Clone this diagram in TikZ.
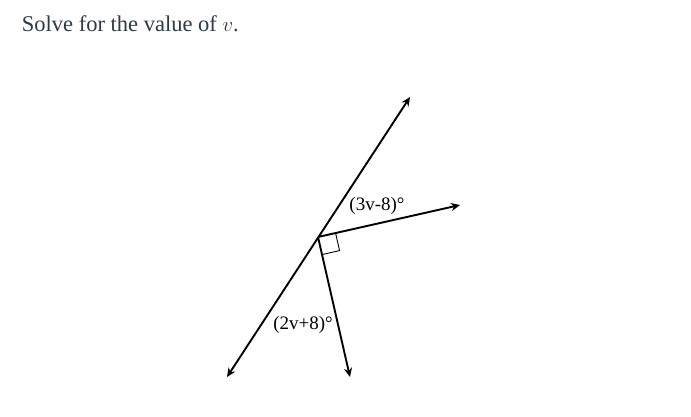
\documentclass[tikz,border=0pt]{standalone}
\usepackage{fontspec}
\setmainfont{Liberation Serif}
\usetikzlibrary{arrows.meta,calc}
\definecolor{titlegray}{HTML}{2D3B45}

\begin{document}
\begin{tikzpicture}[x=1pt,y=-1pt,>={Stealth[length=9pt,width=8pt]},line width=1.9pt]
      \useasboundingbox (0,0) rectangle (691,416);
      \node[anchor=base west,inner sep=0pt,text=titlegray,font=\fontsize{22.5}{27}\selectfont] (q) at (21,31) {Solve for the value of \(v\).};

      \coordinate (0) at (318,237);
      \coordinate (1) at (410,97);
      \coordinate (2) at (227,377);
      \coordinate (3) at (460,205);
      \coordinate (4) at (350,377);

      \draw[<->] (2) -- (1);
      \draw[->] (0) -- (3);
      \draw[->] (0) -- (4);

      % right angle mark
      \coordinate (a) at ($(0)!18pt!(3)$);
      \coordinate (b) at ($(0)!18pt!(4)$);
      \draw[line width=0.9pt] (a) -- ($(a)+(b)-(0)$) -- (b);

      \node[font=\fontsize{19}{23}\selectfont] (5) at (377,206) {(3v-8)\textdegree};
      \node[font=\fontsize{19}{23}\selectfont] (6) at (303,325) {(2v+8)\textdegree};
    \end{tikzpicture}
\end{document}
